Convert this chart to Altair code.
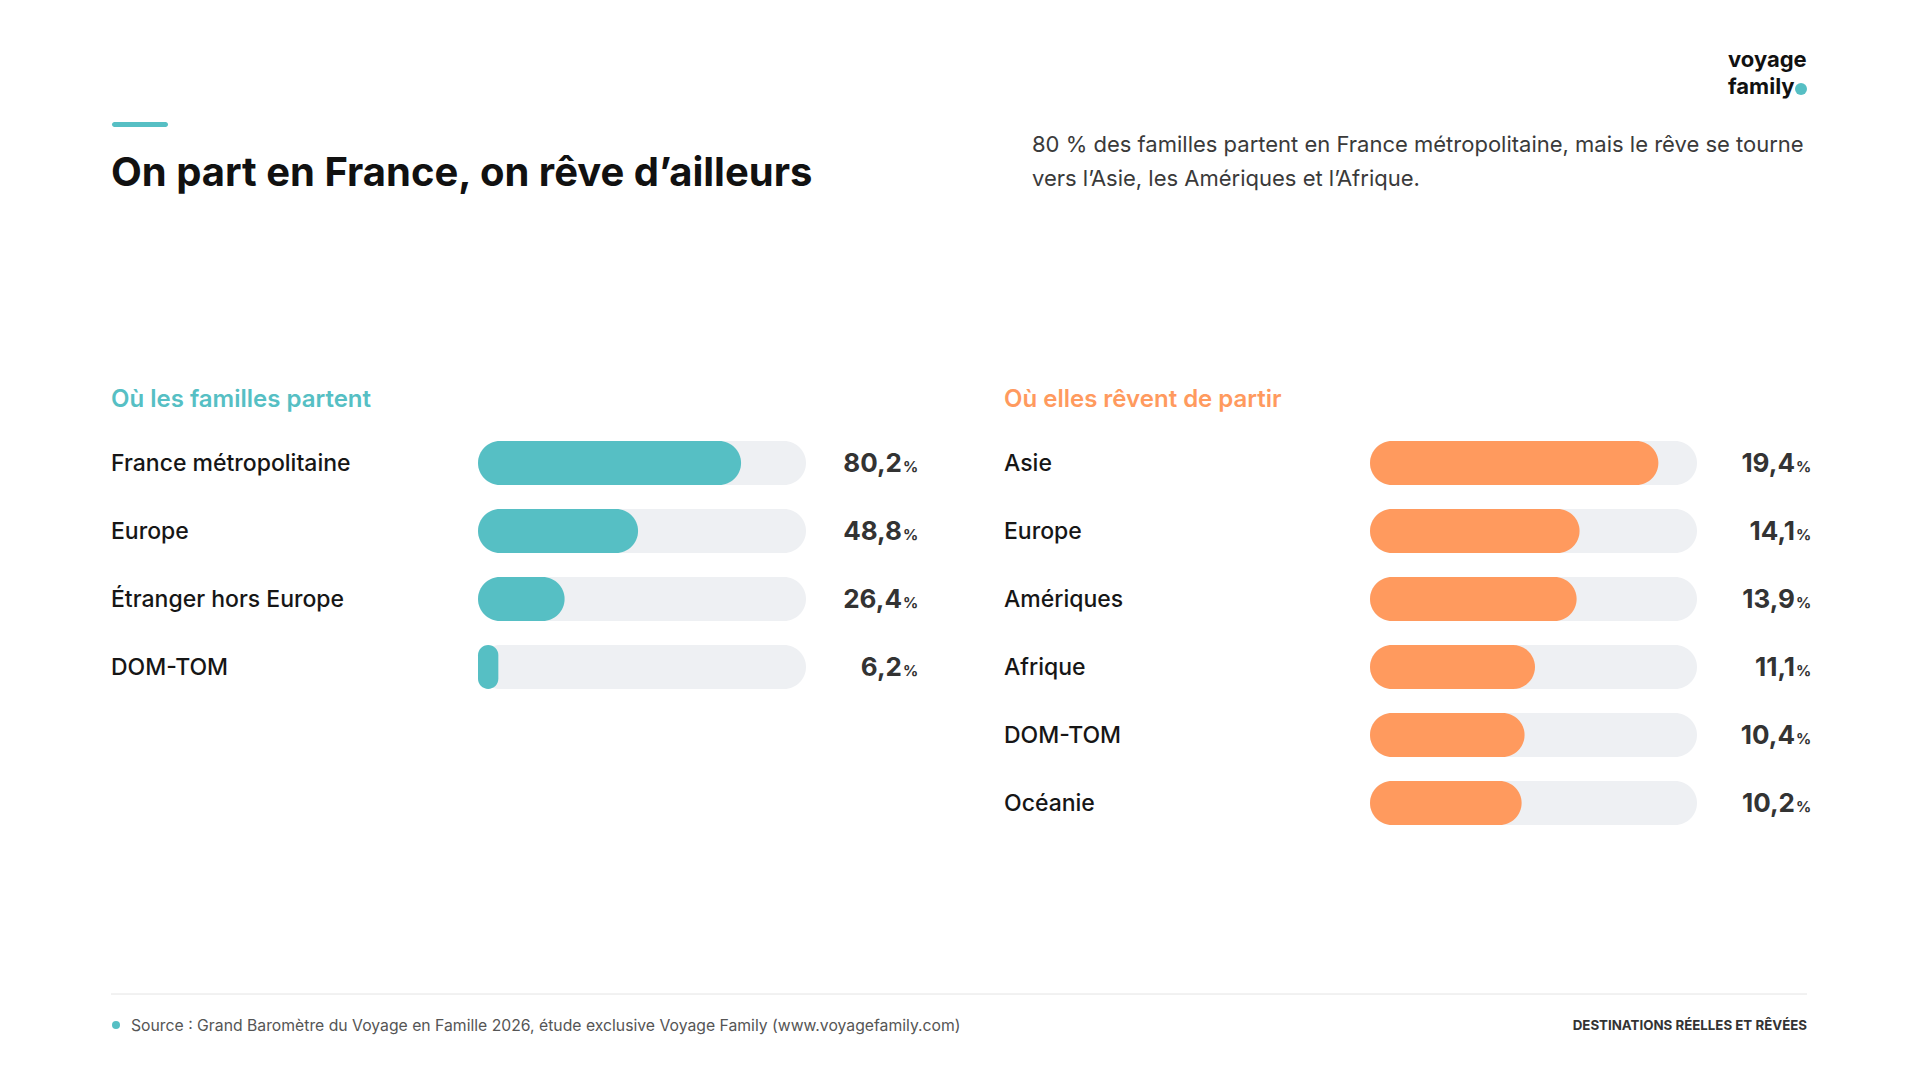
import altair as alt
import pandas as pd

# ---------------- data ----------------
left_categories = ["France métropolitaine", "Europe", "Étranger hors Europe", "DOM-TOM"]
left_values = [80.2, 48.8, 26.4, 6.2]
left_max = 100

right_categories = ["Asie", "Europe", "Amériques", "Afrique", "DOM-TOM", "Océanie"]
right_values = [19.4, 14.1, 13.9, 11.1, 10.4, 10.2]
right_max = 22

title = "On part en France, on rêve d’ailleurs"
subtitle_lines = [
    "80 % des familles partent en France métropolitaine, mais le rêve se tourne",
    "vers l’Asie, les Amériques et l’Afrique.",
]
left_heading = "Où les familles partent"
right_heading = "Où elles rêvent de partir"
source = "Source : Grand Baromètre du Voyage en Famille 2026, étude exclusive Voyage Family (www.voyagefamily.com)"
footer_right = "DESTINATIONS RÉELLES ET RÊVÉES"
logo_lines = ["voyage", "family"]

# ---------------- style ----------------
FONT = "Inter"
TEAL = "#56BFC4"
ORANGE = "#FF9A5E"
TRACK = "#EEF0F3"
DARK = "#161616"
VAL = "#333333"


def frame(cats, vals, mx):
    return pd.DataFrame({
        "label": cats,
        "value": vals,
        "row": list(range(len(cats))),
        "full": [mx] * len(cats),
        "num": [f"{v:.1f}".replace(".", ",") for v in vals],
        "pct": ["%"] * len(cats),
    })


left_df = frame(left_categories, left_values, left_max)
right_df = frame(right_categories, right_values, right_max)
one = pd.DataFrame({"k": [0]})

yS = alt.Scale(domain=[0, 5], range=[463, 803], nice=False, zero=False, padding=0)


def txt(s, x, y, size, weight, color, align="left", **kw):
    return alt.Chart(one).mark_text(
        text=s, align=align, baseline="alphabetic", fontSize=size,
        fontWeight=weight, color=color, font=FONT, **kw
    ).encode(x=alt.value(x), y=alt.value(y))


def panel(df, mx, x0, x1, color, label_x, num_x):
    xs = alt.Scale(domain=[0, mx], range=[x0, x1], nice=False, zero=True, padding=0)
    Y = alt.Y("row:Q", scale=yS, axis=None)
    track = alt.Chart(df).mark_bar(
        orient="horizontal", size=44, cornerRadius=22, color=TRACK
    ).encode(x=alt.X("full:Q", scale=xs, axis=None, stack=None), y=Y)
    fill = alt.Chart(df).mark_bar(
        orient="horizontal", size=44, cornerRadius=22, color=color
    ).encode(x=alt.X("value:Q", scale=xs, axis=None, stack=None), y=Y)
    labels = alt.Chart(df).mark_text(
        align="left", baseline="alphabetic", dy=8, fontSize=23,
        fontWeight=500, color=DARK, font=FONT
    ).encode(x=alt.value(label_x), y=Y, text="label:N")
    nums = alt.Chart(df).mark_text(
        align="right", baseline="alphabetic", dy=9, fontSize=26,
        fontWeight=700, color=VAL, font=FONT
    ).encode(x=alt.value(num_x), y=Y, text="num:N")
    pcts = alt.Chart(df).mark_text(
        align="left", baseline="alphabetic", dy=9, fontSize=15,
        fontWeight=700, color=VAL, font=FONT
    ).encode(x=alt.value(num_x + 1), y=Y, text="pct:N")
    return [track, fill, labels, nums, pcts]


layers = []
# accent bar
layers.append(alt.Chart(one).mark_rect(cornerRadius=2.5, color=TEAL).encode(
    x=alt.value(112), x2=alt.value(168), y=alt.value(122), y2=alt.value(127)))
layers.append(txt(title, 111, 186, 40, 700, "#111111"))
layers.append(txt(subtitle_lines[0], 1032, 152, 22, 400, "#3a3a3a"))
layers.append(txt(subtitle_lines[1], 1032, 186, 22, 400, "#3a3a3a"))
# logo (one two-line text)
layers.append(txt(logo_lines, 1728, 67, 22, 700, "#111111", align="left", lineHeight=27))
layers.append(alt.Chart(one).mark_circle(size=144, color=TEAL, opacity=1).encode(
    x=alt.value(1801), y=alt.value(89)))
# headings
layers.append(txt(left_heading, 111, 407, 24, 600, TEAL))
layers.append(txt(right_heading, 1004, 407, 24, 600, ORANGE))
# panels
layers += panel(left_df, left_max, 478, 806, TEAL, 111, 902)
layers += panel(right_df, right_max, 1370, 1697, ORANGE, 1004, 1795)
# footer
layers.append(alt.Chart(one).mark_rule(color="#E4E4E4", strokeWidth=1).encode(
    x=alt.value(111), x2=alt.value(1807), y=alt.value(994)))
layers.append(alt.Chart(one).mark_circle(size=64, color=TEAL, opacity=1).encode(
    x=alt.value(116), y=alt.value(1025)))
layers.append(txt(source, 131, 1031, 15.75, 400, "#555555"))
layers.append(txt(footer_right, 1807, 1030, 13.3, 700, "#333333", align="right"))

chart = alt.layer(*layers).resolve_scale(x="independent").properties(
    width=1920, height=1080, padding=0,
    autosize=alt.AutoSizeParams(type="none"), background="white"
).configure_view(stroke=None)

chart.save("out.html", embed_options={"renderer": "svg", "actions": False})
